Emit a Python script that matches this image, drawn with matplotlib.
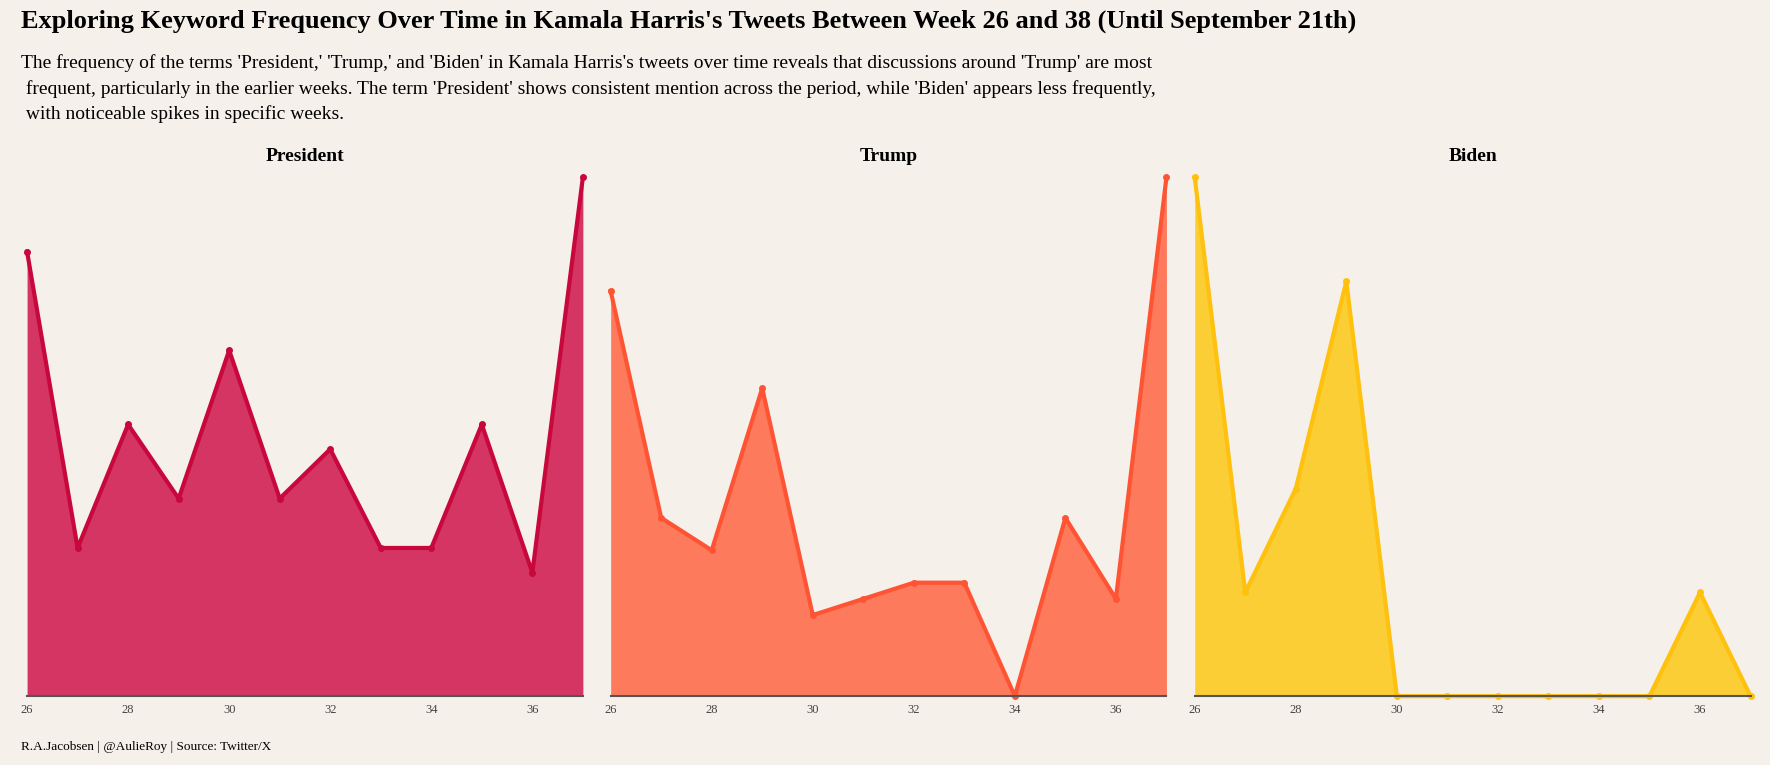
import matplotlib.pyplot as plt

weeks = [26, 27, 28, 29, 30, 31, 32, 33, 34, 35, 36, 37]
president = [18, 6, 11, 8, 14, 8, 10, 6, 6, 11, 5, 21]
trump = [25, 11, 9, 19, 5, 6, 7, 7, 0, 11, 6, 32]
biden = [5, 1, 2, 4, 0, 0, 0, 0, 0, 0, 1, 0]

panels = [
    ('President', president, '#d32f5f', '#c8083c'),
    ('Trump', trump, '#ff7658', '#ff5434'),
    ('Biden', biden, '#fccd2f', '#ffc10d'),
]
bg = '#f5f0ea'
plt.rcParams['font.family'] = ['Liberation Serif', 'DejaVu Serif']

fig = plt.figure(figsize=(17.7, 7.65), dpi=100, facecolor=bg)
lefts = [0.0153, 0.345, 0.675]
for left, (name, vals, fill, line) in zip(lefts, panels):
    ax = fig.add_axes([left, 0.090, 0.314, 0.678], facecolor=bg)
    ax.fill_between(weeks, vals, color=fill, alpha=0.97, lw=0)
    ax.plot(weeks, vals, color=line, lw=3, marker='o', ms=4, clip_on=False)
    ax.set_xlim(26, 37)
    ax.set_ylim(0, max(vals))
    ax.set_yticks([])
    ax.set_xticks(range(26, 38, 2))
    ax.tick_params(axis='x', length=0, labelsize=9, colors='#444444', pad=6)
    for s in ['top', 'right', 'left']:
        ax.spines[s].set_visible(False)
    ax.spines['bottom'].set_color('#555555')
    ax.spines['bottom'].set_linewidth(1.5)
    ax.set_title(name, fontsize=14, fontweight='bold', pad=12)

fig.text(0.012, 0.972, "Exploring Keyword Frequency Over Time in Kamala Harris's Tweets Between Week 26 and 38 (Until September 21th)",
         fontsize=19, fontweight='bold', va='center')
fig.text(0.012, 0.929,
         "The frequency of the terms 'President,' 'Trump,' and 'Biden' in Kamala Harris's tweets over time reveals that discussions around 'Trump' are most\n"
         " frequent, particularly in the earlier weeks. The term 'President' shows consistent mention across the period, while 'Biden' appears less frequently,\n"
         " with noticeable spikes in specific weeks.",
         fontsize=14, va='top', linespacing=1.55)
fig.text(0.012, 0.023, 'R.A.Jacobsen | @AulieRoy | Source: Twitter/X', fontsize=9.5, va='center')

fig.savefig('out.png', dpi=100, facecolor=bg)
